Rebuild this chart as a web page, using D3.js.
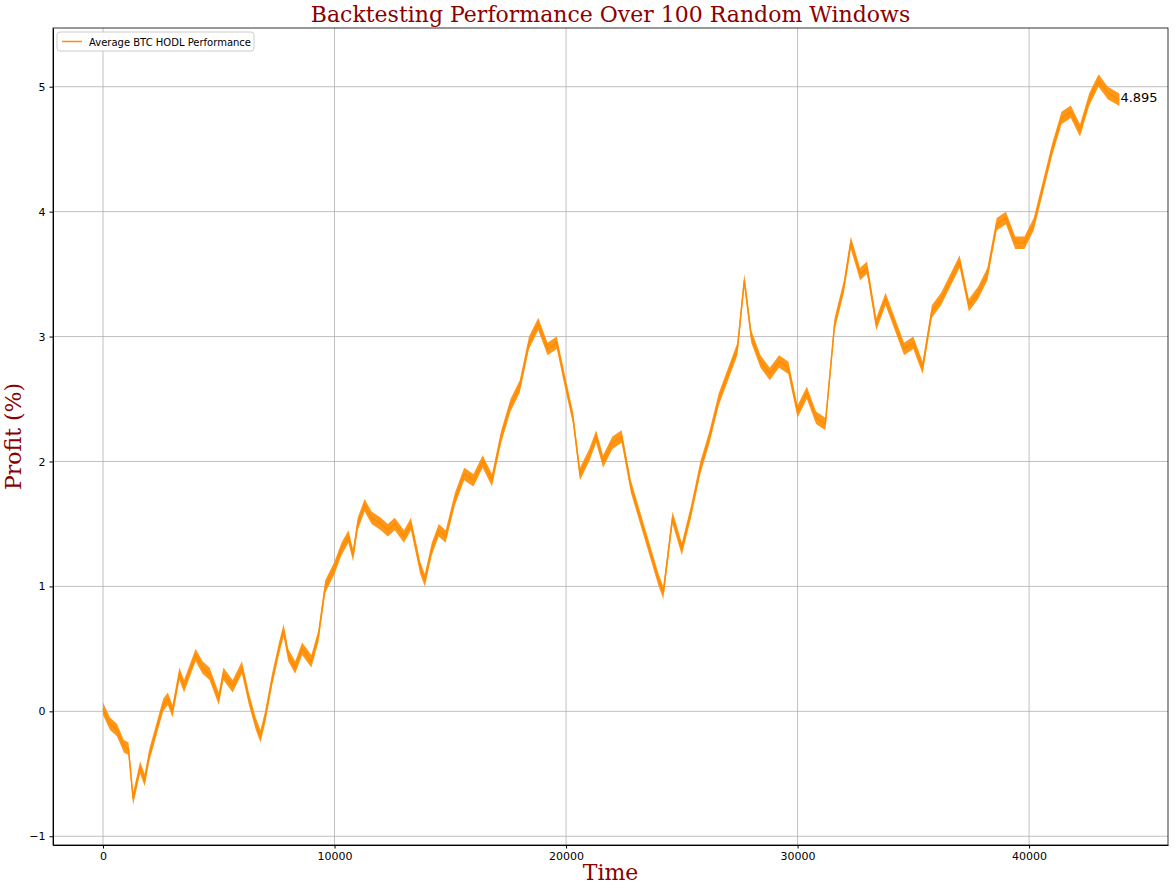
<!DOCTYPE html>
<html>
<head>
<meta charset="utf-8">
<script src="https://cdn.jsdelivr.net/npm/d3@7"></script>
<style>
  body { margin: 0; background: #fff; }
  .tick text { font-family: "DejaVu Sans", sans-serif; font-size: 11px; }
</style>
</head>
<body>
<div id="chart"></div>
<script>
// values (time, average profit)
var times = [0,300,600,900,1100,1300,1600,1800,2000,2300,2600,2800,3000,3300,3500,3800,4000,4300,4600,5000,
  5200,5600,6000,6300,6600,6800,7000,7300,7600,7800,8000,8300,8600,9000,9300,9600,10000,10300,10600,10800,
  11000,11300,11600,12000,12300,12600,13000,13300,13700,13900,14200,14500,14800,15200,15600,16000,16400,16800,17200,17600,
  18000,18400,18800,19200,19600,20000,20300,20600,21000,21300,21600,22000,22400,22800,23200,23600,24000,24200,24600,25000,
  25400,25800,26200,26600,27000,27400,27700,28000,28400,28800,29200,29600,30000,30400,30800,31200,31600,32000,32300,32700,
  33000,33400,33800,34200,34600,35000,35400,35800,36200,36600,37000,37400,37800,38200,38600,39000,39400,39800,40200,40600,
  41000,41400,41800,42200,42600,43000,43400,43900];
var profit = [0.02,-0.1,-0.15,-0.28,-0.3,-0.7,-0.45,-0.55,-0.35,-0.15,0.05,0.1,0.0,0.3,0.2,0.35,0.45,0.35,0.3,0.1,
  0.3,0.2,0.35,0.1,-0.1,-0.2,-0.05,0.25,0.5,0.65,0.45,0.35,0.5,0.4,0.6,1.0,1.15,1.3,1.4,1.25,
  1.5,1.65,1.55,1.5,1.45,1.5,1.4,1.5,1.15,1.05,1.3,1.45,1.4,1.7,1.9,1.85,2.0,1.85,2.2,2.45,
  2.6,2.95,3.1,2.9,2.95,2.6,2.35,1.9,2.05,2.2,2.0,2.15,2.2,1.8,1.55,1.3,1.05,0.95,1.55,1.3,
  1.6,1.95,2.2,2.5,2.7,2.9,3.45,3.0,2.8,2.7,2.8,2.75,2.4,2.55,2.35,2.3,3.1,3.4,3.75,3.5,
  3.55,3.1,3.3,3.1,2.9,2.95,2.75,3.2,3.3,3.45,3.6,3.25,3.35,3.5,3.9,3.95,3.75,3.75,3.9,4.2,
  4.5,4.75,4.8,4.65,4.9,5.05,4.95,4.895];
var xTicks = [0, 10000, 20000, 30000, 40000];
var yTicks = [-1, 0, 1, 2, 3, 4, 5];
var finalLabel = "4.895";

var svgWidth = 1175, svgHeight = 890;
var margin = {top: 28, right: 7, bottom: 45, left: 53};
var width = svgWidth - margin.left - margin.right;
var height = svgHeight - margin.top - margin.bottom;

var svg = d3.select("#chart").append("svg")
  .attr("width", svgWidth).attr("height", svgHeight);
var chartGroup = svg.append("g")
  .attr("transform", `translate(${margin.left}, ${margin.top})`);

var x = d3.scaleLinear().domain([-2160, 46000]).range([0, width]);
var y = d3.scaleLinear().domain([-1.07, 5.47]).range([height, 0]);

// grid
chartGroup.append("g").selectAll("line").data(xTicks).enter().append("line")
  .attr("x1", d => x(d)).attr("x2", d => x(d)).attr("y1", 0).attr("y2", height)
  .attr("stroke", "#b0b0b0").attr("stroke-width", 0.8);
chartGroup.append("g").selectAll("line").data(yTicks).enter().append("line")
  .attr("y1", d => y(d)).attr("y2", d => y(d)).attr("x1", 0).attr("x2", width)
  .attr("stroke", "#b0b0b0").attr("stroke-width", 0.8);

// axes
chartGroup.append("g").attr("transform", `translate(0, ${height})`)
  .call(d3.axisBottom(x).tickValues(xTicks).tickSize(3.5).tickPadding(4).tickSizeOuter(0)
    .tickFormat(d => String(d)));
chartGroup.append("g")
  .call(d3.axisLeft(y).tickValues(yTicks).tickSize(3.5).tickPadding(4).tickSizeOuter(0)
    .tickFormat(d => d < 0 ? "\u2212" + Math.abs(d) : d));
chartGroup.append("rect").attr("width", width).attr("height", height)
  .attr("fill", "none").attr("stroke", "#000").attr("stroke-width", 0.8);

// the series, drawn with a bit of thickness to show the jitter
var pts = times.map((t, i) => [t, profit[i]]);
chartGroup.append("path").datum(pts)
  .attr("d", d3.area().x(d => x(d[0])).y0(d => y(d[1] - 0.05)).y1(d => y(d[1] + 0.05)))
  .attr("fill", "#ff8c00").attr("opacity", 0.9);
chartGroup.append("path").datum(pts)
  .attr("d", d3.line().x(d => x(d[0])).y(d => y(d[1])))
  .attr("fill", "none").attr("stroke", "#ff8c00").attr("stroke-width", 1.5);

chartGroup.append("text")
  .attr("x", x(times[times.length - 1]) + 1).attr("y", y(profit[profit.length - 1]) - 2)
  .attr("dy", ".35em").style("font", "13px 'DejaVu Sans'").text(finalLabel);

// legend
var lg = chartGroup.append("g").attr("transform", "translate(4, 4)");
lg.append("rect").attr("width", 197).attr("height", 19).attr("rx", 3)
  .attr("fill", "#fff").attr("stroke", "#ccc");
lg.append("line").attr("x1", 5).attr("x2", 25).attr("y1", 9.5).attr("y2", 9.5)
  .attr("stroke", "#ff8c00").attr("stroke-width", 1.5);
lg.append("text").attr("x", 32).attr("y", 13.5)
  .style("font", "10px 'DejaVu Sans'").text("Average BTC HODL Performance");

// titles
svg.append("text").attr("x", margin.left + width / 2).attr("y", 22)
  .attr("text-anchor", "middle").attr("fill", "darkred")
  .style("font", "22px 'DejaVu Serif'").text("Backtesting Performance Over 100 Random Windows");
svg.append("text").attr("x", margin.left + width / 2).attr("y", 880)
  .attr("text-anchor", "middle").attr("fill", "darkred")
  .style("font", "22px 'DejaVu Serif'").text("Time");
svg.append("text").attr("transform", `translate(21, ${margin.top + height / 2}) rotate(-90)`)
  .attr("text-anchor", "middle").attr("fill", "darkred")
  .style("font", "22px 'DejaVu Serif'").text("Profit (%)");
</script>
</body>
</html>
